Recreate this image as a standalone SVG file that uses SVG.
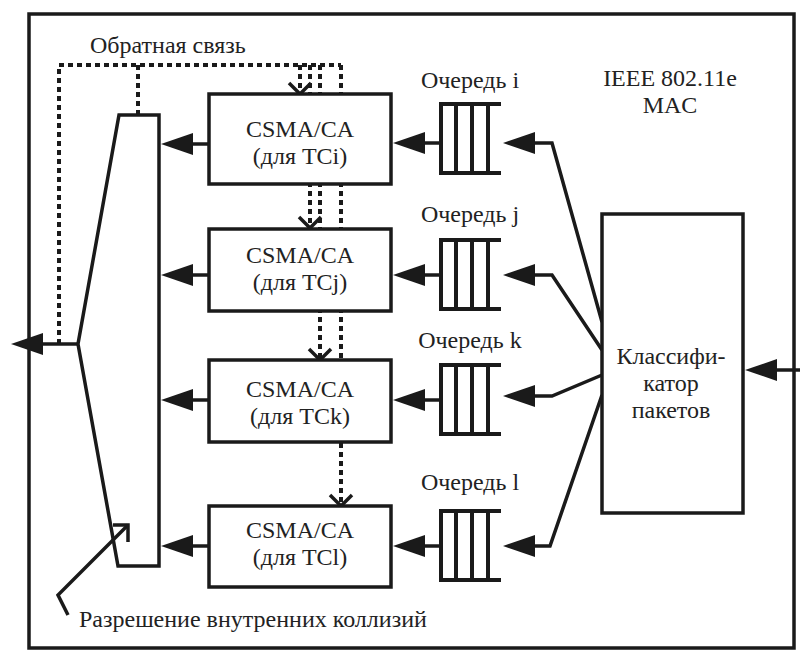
<svg xmlns="http://www.w3.org/2000/svg" width="800" height="662" viewBox="0 0 800 662">
  <style>
    .frame { fill: none; stroke: #1a1a1a; stroke-width: 3.5; }
    .box { fill: #ffffff; stroke: #1a1a1a; stroke-width: 3.5; }
    .wire { fill: none; stroke: #1a1a1a; stroke-width: 3.5; stroke-linejoin: miter; }
    .dots { fill: none; stroke: #1a1a1a; stroke-width: 4; stroke-dasharray: 5 4; }
    .q { fill: none; stroke: #1a1a1a; stroke-width: 4; }
    .t { font-family: "Liberation Serif", Times, serif; font-size: 24px; fill: #222222; }
    .c { text-anchor: middle; }
  </style>
  <defs>
    <!-- solid triangular head, starts at the line end -->
    <marker id="head" viewBox="0 0 32 22" refX="0" refY="11" markerWidth="32" markerHeight="22" markerUnits="userSpaceOnUse" orient="auto">
      <path d="M0,0 L32,11 L0,22 Z" fill="#1a1a1a"/>
    </marker>
    <!-- open V head for feedback lines, tip at the line end -->
    <marker id="vee" viewBox="-14 -14 16 28" refX="0" refY="0" markerWidth="16" markerHeight="28" markerUnits="userSpaceOnUse" orient="auto" style="overflow:visible">
      <path d="M-11,-11 L0,0 L-11,11" fill="none" stroke="#1a1a1a" stroke-width="3.5"/>
    </marker>
    <!-- queue symbol: open on the right -->
    <g id="queue">
      <path class="q" d="M60,0 H0 V69 H60 M15,0 V69 M31,0 V69 M47,0 V69"/>
    </g>
  </defs>

  <!-- MAC frame -->
  <rect class="frame" x="29" y="14" width="765" height="634"/>

  <g id="connectors">
    <!-- feedback lines -->
    <path class="dots" d="M59,344 V65 H341"/>
    <path class="dots" d="M138,115 V65"/>
    <path class="dots" d="M300,65 V94" marker-end="url(#vee)"/>
    <path class="dots" d="M310,65 V228" marker-end="url(#vee)"/>
    <path class="dots" d="M320,65 V360" marker-end="url(#vee)"/>
    <path class="dots" d="M341,65 V506" marker-end="url(#vee)"/>
    <!-- output -->
    <path class="wire" d="M78,344 H43" marker-end="url(#head)"/>
    <!-- CSMA/CA to collision resolver -->
    <path class="wire" d="M209,144 H193" marker-end="url(#head)"/>
    <path class="wire" d="M209,275 H193" marker-end="url(#head)"/>
    <path class="wire" d="M209,400 H193" marker-end="url(#head)"/>
    <path class="wire" d="M209,546 H193" marker-end="url(#head)"/>
    <!-- queues to CSMA/CA -->
    <path class="wire" d="M441,143 H425" marker-end="url(#head)"/>
    <path class="wire" d="M441,275 H425" marker-end="url(#head)"/>
    <path class="wire" d="M441,400 H425" marker-end="url(#head)"/>
    <path class="wire" d="M441,546 H425" marker-end="url(#head)"/>
    <!-- classifier to queues -->
    <path class="wire" d="M602,322 L552,143 H535" marker-end="url(#head)"/>
    <path class="wire" d="M602,350 L552,275 H535" marker-end="url(#head)"/>
    <path class="wire" d="M602,375 L552,396 H535" marker-end="url(#head)"/>
    <path class="wire" d="M602,395 L550,546 H535" marker-end="url(#head)"/>
    <!-- input -->
    <path class="wire" d="M800,370 H777" marker-end="url(#head)"/>
  </g>

  <g id="resolver">
    <polygon class="box" points="119,115 159,115 159,566 118,566 78,344"/>
  </g>

  <!-- pointer to collision resolver, drawn over it -->
  <g id="pointer">
    <path class="wire" d="M68,615 L58,595 L128,525"/>
    <path class="wire" d="M113,525 H128 V542"/>
  </g>

  <g id="csma-i">
    <rect class="box" x="209" y="94" width="182" height="90"/>
    <text class="t c" x="300" y="137">CSMA/CA</text>
    <text class="t c" x="300" y="164">(для TCi)</text>
  </g>
  <g id="csma-j">
    <rect class="box" x="209" y="229" width="182" height="82"/>
    <text class="t c" x="300" y="263">CSMA/CA</text>
    <text class="t c" x="300" y="290">(для TCj)</text>
  </g>
  <g id="csma-k">
    <rect class="box" x="209" y="360" width="182" height="82"/>
    <text class="t c" x="300" y="397">CSMA/CA</text>
    <text class="t c" x="300" y="424">(для TCk)</text>
  </g>
  <g id="csma-l">
    <rect class="box" x="209" y="506" width="182" height="81"/>
    <text class="t c" x="300" y="538">CSMA/CA</text>
    <text class="t c" x="300" y="565">(для TCl)</text>
  </g>

  <g id="queue-i">
    <use href="#queue" x="441" y="104"/>
    <text class="t c" x="470" y="88">Очередь i</text>
  </g>
  <g id="queue-j">
    <use href="#queue" x="441" y="240"/>
    <text class="t c" x="470" y="222">Очередь j</text>
  </g>
  <g id="queue-k">
    <use href="#queue" x="441" y="365"/>
    <text class="t c" x="470" y="348">Очередь k</text>
  </g>
  <g id="queue-l">
    <use href="#queue" x="441" y="511"/>
    <text class="t c" x="470" y="490">Очередь l</text>
  </g>

  <g id="classifier">
    <rect class="box" x="602" y="214" width="141" height="299"/>
    <text class="t c" x="671" y="364">Классифи-</text>
    <text class="t c" x="671" y="391">катор</text>
    <text class="t c" x="671" y="418">пакетов</text>
  </g>

  <g id="labels">
    <text class="t" x="90" y="53">Обратная связь</text>
    <text class="t c" x="670" y="86">IEEE 802.11e</text>
    <text class="t c" x="670" y="113">MAC</text>
    <text class="t" x="79" y="627">Разрешение внутренних коллизий</text>
  </g>
</svg>
